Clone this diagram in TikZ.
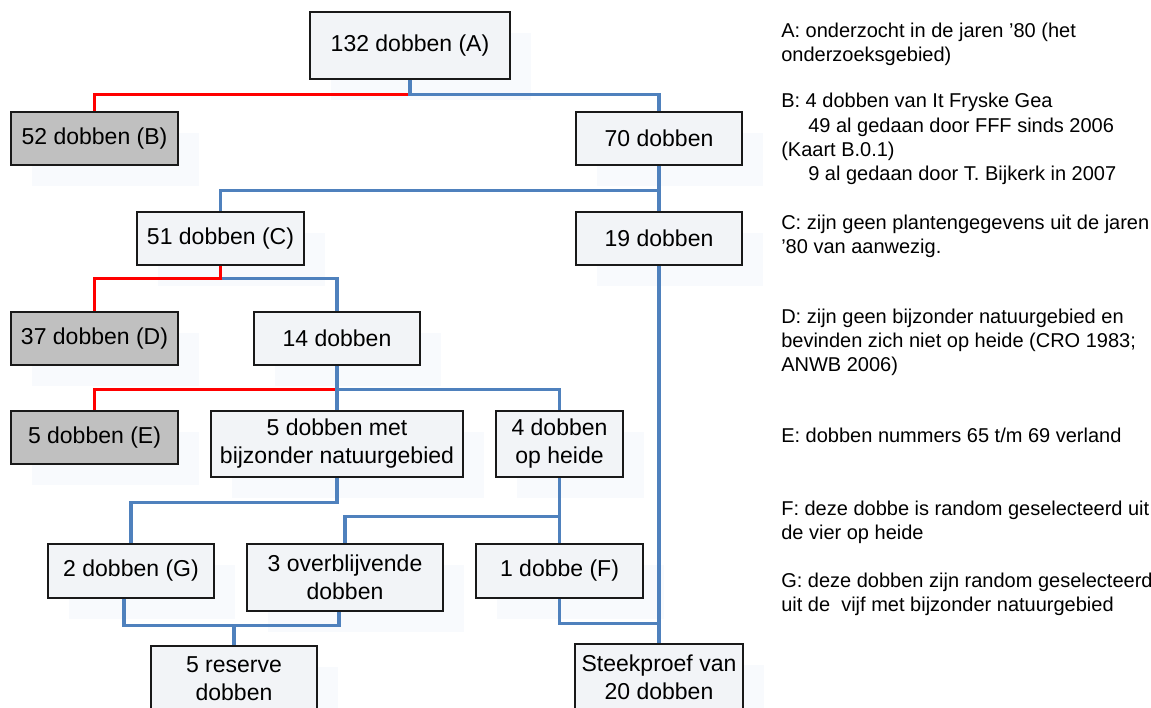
\documentclass[tikz,border=0pt]{standalone}
\usepackage{fontspec}
\setmainfont{Liberation Sans}
\usetikzlibrary{calc,shadows}
\definecolor{nodefill}{RGB}{242,244,247}
\definecolor{greyfill}{RGB}{192,192,192}
\definecolor{blueline}{RGB}{79,129,189}
\definecolor{redline}{RGB}{255,0,0}
\definecolor{shadowc}{RGB}{248,250,253}
\begin{document}
\begin{tikzpicture}[x=0.75pt,y=-0.75pt,
  box/.style={draw=black!90, line width=1.4pt, fill=nodefill, inner sep=0pt, align=center,
    font=\fontsize{17.25}{21}\selectfont,
    drop shadow={shadow xshift=15.75pt, shadow yshift=-15.75pt, fill=shadowc, opacity=1, draw=none}},
  greybox/.style={box, fill=greyfill},
  frame/.style args={#1/#2/#3/#4}{at={({(#1+#3)/2},{(#2+#4)/2})},
    minimum width={(#3-#1)*0.75pt}, minimum height={(#4-#2)*0.75pt}},
  blueconn/.style={draw=blueline, line width=2.3pt},
  redconn/.style={draw=redline, line width=2.3pt},
  note/.style={anchor=base west, inner sep=0pt, font=\fontsize{15}{18}\selectfont}]
\useasboundingbox (0,0) rectangle (1151,707);
\clip (0,0) rectangle (1151,707);

% nodes
\node[box, frame=310/12/510/79] (A) {132 dobben (A)};
\node[greybox, frame=11/112/178/165] (B) {52 dobben (B)};
\node[box, frame=576/112/742/165] (N70) {70 dobben};
\node[box, frame=137/212/304/265] (C) {51 dobben (C)};
\node[box, frame=576/212/742/265] (N19) {19 dobben};
\node[greybox, frame=11/312/178/365] (D) {37 dobben (D)};
\node[box, frame=254/312/420/365] (N14) {14 dobben};
\node[greybox, frame=11/411/178/464] (E) {5 dobben (E)};
\node[box, frame=211/411/463/477] (Nmet) {5 dobben met\\bijzonder natuurgebied};
\node[box, frame=496/411/623/477] (Nheide) {4 dobben\\op heide};
\node[box, frame=48/544/214/598] (G) {2 dobben (G)};
\node[box, frame=247/544/443/611] (N3) {3 overblijvende\\dobben};
\node[box, frame=476/544/643/598] (F) {1 dobbe (F)};
\node[box, frame=151/646/317/712] (R) {5 reserve\\dobben};
\node[box, frame=575/644/743/711] (S) {Steekproef van\\20 dobben};

% connectors
\draw[redconn] (A.south) -- ++(0,15) -| (B.north);
\draw[blueconn] (A.south) -- ++(0,15) -| (N70.north);
\draw[blueconn] (N70.south) -- ++(0,25) -| (C.north);
\draw[blueconn] (N70.south) -- (N19.north);
\draw[blueconn] (C.south) -- ++(0,13) -| (N14.north);
\draw[redconn] (C.south) -- ++(0,13) -| (D.north);
\draw[redconn] (N14.south) -- ++(0,24) -| (E.north);
\draw[blueconn] (N14.south) -- ++(0,24) -| (Nheide.north);
\draw[blueconn] (N14.south) -- (Nmet.north);
\draw[blueconn] (Nmet.south) -- ++(0,25) -| (G.north);
\draw[blueconn] (Nheide.south) -- ++(0,39) -| (N3.north);
\draw[blueconn] (Nheide.south) -- (F.north);
\draw[blueconn] ($(G.south)+(-7,0)$) -- ++(0,27) -| (R.north);
\draw[blueconn] ($(N3.south)+(-6,0)$) -- ++(0,14) -| (R.north);
\draw[blueconn] (F.south) -- ++(0,25) -| (S.north);
\draw[blueconn] (N19.south) -- (S.north);

% notes
\node[note] (nA1) at (781,37) {A: onderzocht in de jaren ’80 (het};
\node[note] (nA2) at (781,61) {onderzoeksgebied)};
\node[note] (nB1) at (781,107) {B: 4 dobben van It Fryske Gea};
\node[note] (nB2) at (808,132) {49 al gedaan door FFF sinds 2006};
\node[note] (nB3) at (781,156) {(Kaart B.0.1)};
\node[note] (nB4) at (808,180) {9 al gedaan door T. Bijkerk in 2007};
\node[note] (nC1) at (781,229) {C: zijn geen plantengegevens uit de jaren};
\node[note] (nC2) at (781,253) {’80 van aanwezig.};
\node[note] (nD1) at (781,323) {D: zijn geen bijzonder natuurgebied en};
\node[note] (nD2) at (781,347) {bevinden zich niet op heide (CRO 1983;};
\node[note] (nD3) at (781,371) {ANWB 2006)};
\node[note] (nE1) at (781,442) {E: dobben nummers 65 t/m 69 verland};
\node[note] (nF1) at (781,515) {F: deze dobbe is random geselecteerd uit};
\node[note] (nF2) at (781,539) {de vier op heide};
\node[note] (nG1) at (781,587) {G: deze dobben zijn random geselecteerd};
\node[note] (nG2) at (781,611) {uit de\ \ vijf met bijzonder natuurgebied};
\end{tikzpicture}
\end{document}
